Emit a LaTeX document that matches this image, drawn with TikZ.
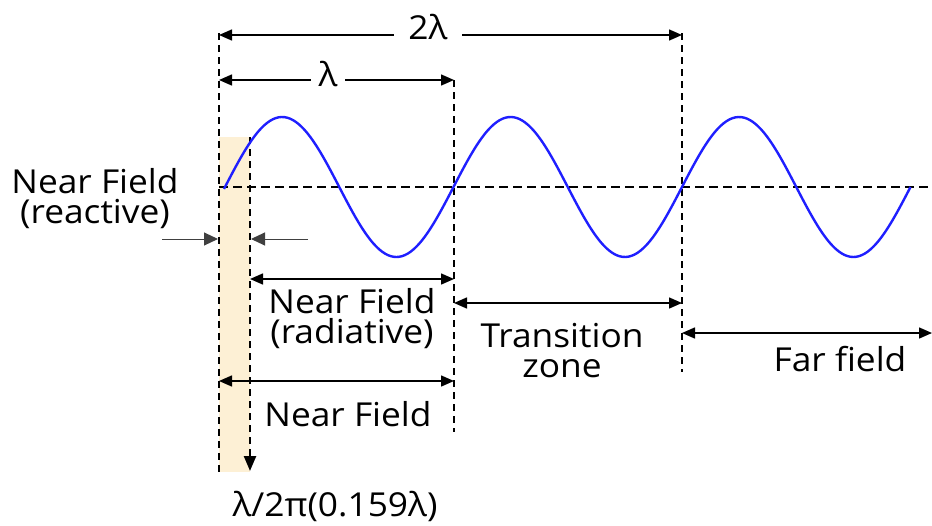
\documentclass[tikz,border=0pt]{standalone}
\usepackage{fontspec}
\setmainfont{Open Sans}[FakeStretch=1.07]
\usetikzlibrary{positioning, arrows.meta}

\definecolor{reactivefill}{HTML}{FDF0D5}
\definecolor{wavecol}{HTML}{1F1FFF}

\begin{document}
\begin{tikzpicture}[x=1pt, y=-1pt,
    dim/.style={{Triangle[length=13pt, width=11pt]}-{Triangle[length=13pt, width=11pt]}, line width=1.5pt},
    pointer/.style={-{Triangle[length=14pt, width=13pt]}, line width=1pt, black!75},
    guide/.style={dash pattern=on 7pt off 5pt, line width=2.4pt},
    lbl/.style={font=\fontsize{33}{30}\selectfont, align=center, inner sep=1pt}]
  \useasboundingbox (0,0) rectangle (932,525);

  % reactive region
  \fill[reactivefill] (219,137) rectangle (250,472);

  % guide lines
  \coordinate (l1t) at (219,33);
  \coordinate (l1b) at (219,472);
  \coordinate (l2t) at (250,137);
  \coordinate (l2b) at (250,471);
  \coordinate (l3t) at (454,80);
  \coordinate (l3b) at (454,432);
  \coordinate (l4t) at (682,33);
  \coordinate (l4b) at (682,372);
  \coordinate (ax0) at (219,187);
  \coordinate (ax1) at (932,187);

  \draw[guide] (l1t) -- (l1b);
  \draw[guide] (l3t) -- (l3b);
  \draw[guide] (l4t) -- (l4b);
  \draw[guide, line width=2.8pt, dash pattern=on 9pt off 5pt] (ax0) -- (ax1);
  \draw[guide, -{Triangle[length=15pt, width=12pt]}] (l2t) -- (l2b);

  % wave
  \draw[wavecol, line width=2.4pt, smooth]
    plot[domain=224:910.5, samples=240] (\x, {187 - 70*sin((\x-225)/228.5*360)});

  % dimension arrows
  \coordinate (d1a) at (219,35);   \coordinate (d1b) at (682,35);
  \coordinate (d2a) at (219,80);   \coordinate (d2b) at (454,80);
  \coordinate (d3a) at (250,279);  \coordinate (d3b) at (454,279);
  \coordinate (d4a) at (454,303);  \coordinate (d4b) at (682,303);
  \coordinate (d5a) at (682,333);  \coordinate (d5b) at (932,333);
  \coordinate (d6a) at (219,381);  \coordinate (d6b) at (454,381);

  \draw[dim] (d1a) -- (d1b);
  \draw[dim] (d2a) -- (d2b);
  \draw[dim] (d3a) -- (d3b);
  \draw[dim] (d4a) -- (d4b);
  \draw[dim] (d5a) -- (d5b);
  \draw[dim] (d6a) -- (d6b);

  % reactive pointers
  \coordinate (p1) at (162,239);
  \coordinate (p2) at (218,239);
  \coordinate (p3) at (308,239);
  \coordinate (p4) at (251,239);
  \draw[pointer] (p1) -- (p2);
  \draw[pointer] (p3) -- (p4);

  % labels
  \node[lbl, fill=white, inner xsep=14pt] (twolam) at (428,27) {2λ};
  \node[lbl, fill=white, inner xsep=8pt] (lam) at (328,74) {λ};
  \node[lbl] (reactive) at (95,199) {Near Field\\(reactive)};
  \node[lbl] (radiative) at (352,319) {Near Field\\(radiative)};
  \node[lbl] (trans) at (562,351) {Transition\\zone};
  \node[lbl] (far) at (840,359) {Far field};
  \node[lbl] (near) at (348,414) {Near Field};
  \node[lbl] (ratio) at (335,506) {λ/2π(0.159λ)};
\end{tikzpicture}
\end{document}
